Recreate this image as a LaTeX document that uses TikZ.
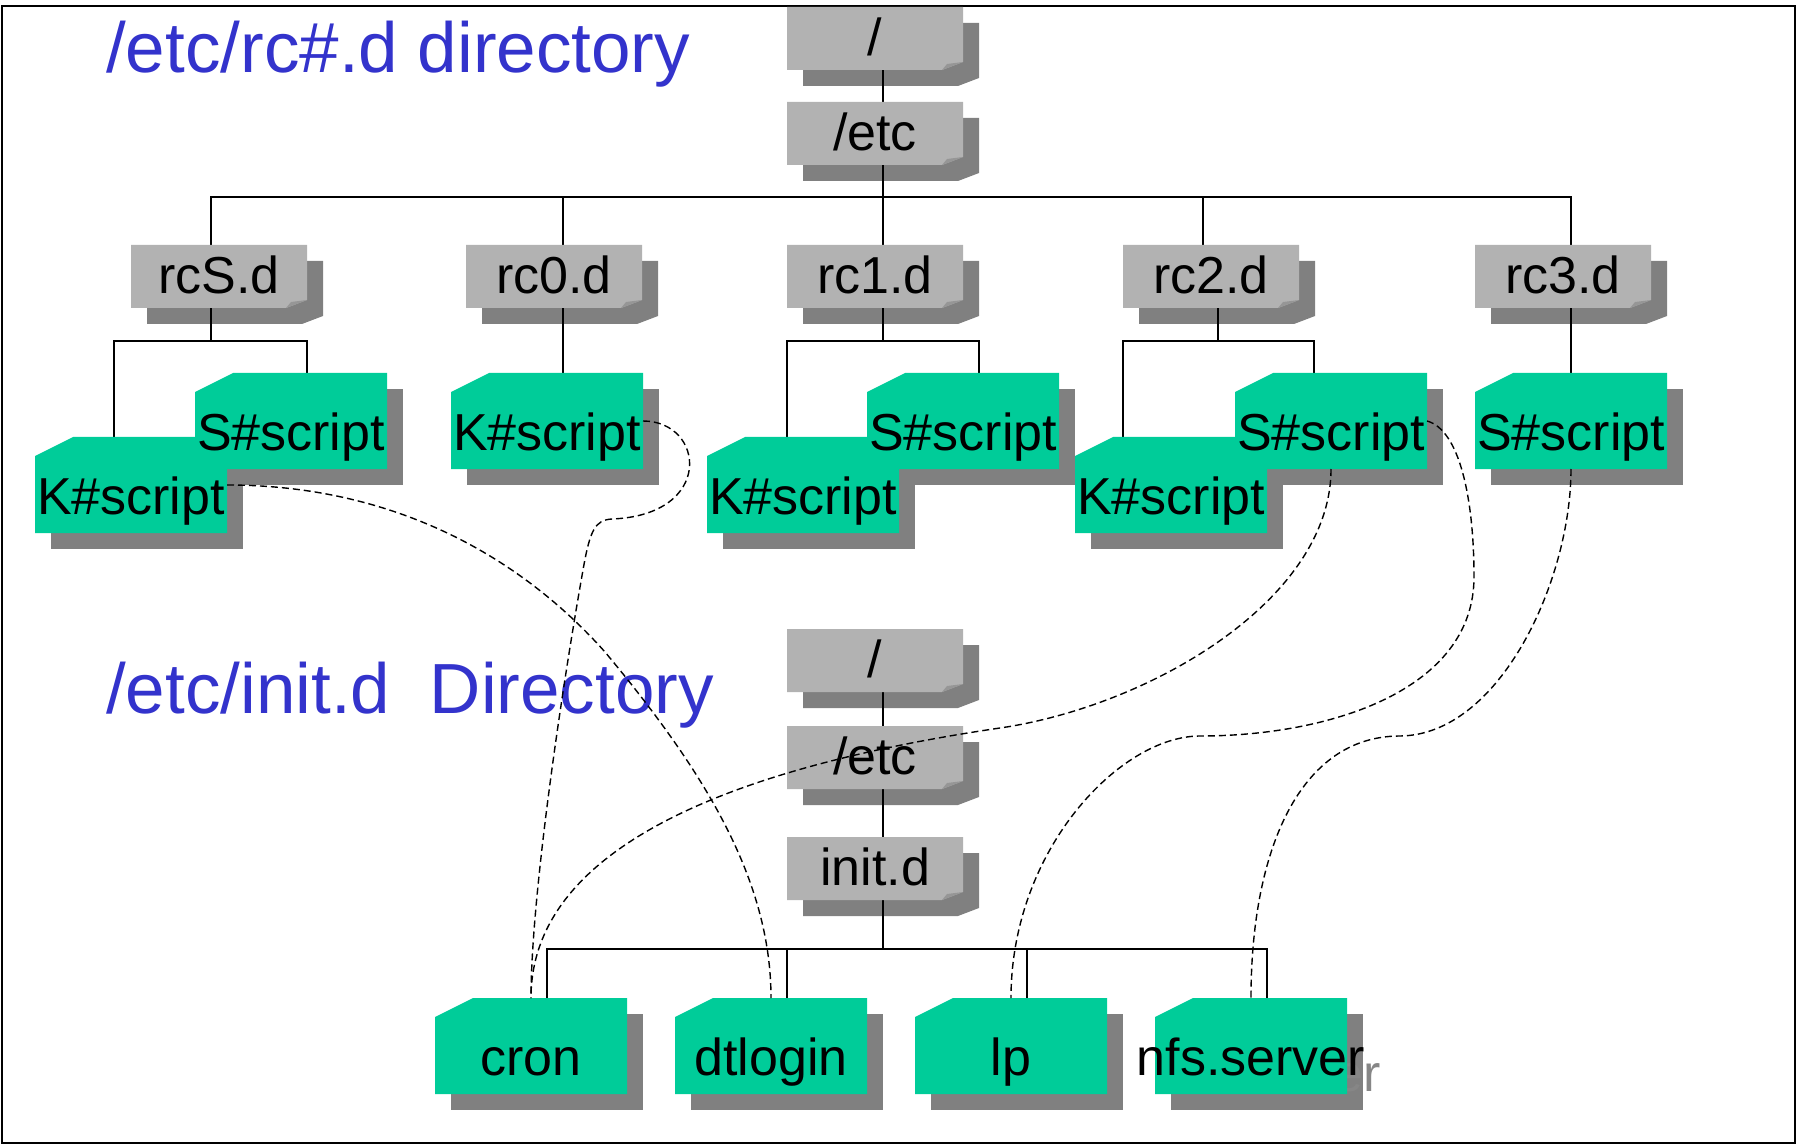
\documentclass[tikz,border=0pt]{standalone}
\usepackage{fontspec}
\setmainfont{Liberation Sans}
\definecolor{scriptgreen}{RGB}{0,204,153}
\definecolor{dirgray}{RGB}{178,178,178}
\definecolor{foldgray}{RGB}{150,150,150}
\definecolor{shadowgray}{RGB}{128,128,128}
\definecolor{ghostgray}{RGB}{134,134,134}
\definecolor{titleblue}{RGB}{51,51,204}
\pgfdeclarelayer{shade}
\pgfdeclarelayer{links}
\pgfsetlayers{shade,links,main}
\tikzset{
  dirbox/.style={rectangle,inner sep=0pt,outer sep=0pt,minimum width=176pt,minimum height=63pt,
    text height=34pt,text depth=0pt,font=\fontsize{52}{60}\selectfont,
    path picture={
      \fill[dirgray] (path picture bounding box.north west) -- (path picture bounding box.north east)
        -- ([yshift=8pt]path picture bounding box.south east) -- ([xshift=-21pt]path picture bounding box.south east)
        -- (path picture bounding box.south west) -- cycle;
      \fill[foldgray] ([yshift=8pt]path picture bounding box.south east) -- ([xshift=-21pt]path picture bounding box.south east)
        -- ([xshift=-16pt,yshift=6pt]path picture bounding box.south east) -- cycle;
    }},
  scriptbox/.style={rectangle,inner sep=0pt,outer sep=0pt,minimum width=192pt,minimum height=96pt,
    text height=58pt,text depth=0pt,font=\fontsize{52}{60}\selectfont,
    path picture={
      \fill[scriptgreen] ([yshift=-19pt]path picture bounding box.north west) -- ([xshift=38pt]path picture bounding box.north west)
        -- (path picture bounding box.north east) -- (path picture bounding box.south east)
        -- (path picture bounding box.south west) -- cycle;
    }},
  title/.style={anchor=base west,inner sep=0pt,text=titleblue,font=\fontsize{71}{80}\selectfont},
  link/.style={line width=1.5pt},
  jump/.style={line width=1.4pt,dash pattern=on 7pt off 4pt},
}

\begin{document}
\begin{tikzpicture}[x=1pt,y=-1pt]
  \useasboundingbox (0,0) rectangle (1797,1147);

  \node[title] (rctitle) at (106,73) {/etc/rc\#.d directory};
  \node[title] (inittitle) at (106,713) {/etc/init.d\ \ Directory};

  % upper tree
  \node[dirbox] (root1) at (875,38.5) {/};
  \node[dirbox] (etc1) at (875,133.5) {/etc};
  \node[dirbox] (rcS) at (219,276.5) {rcS.d};
  \node[dirbox] (rc0) at (554,276.5) {rc0.d};
  \node[dirbox] (rc1) at (875,276.5) {rc1.d};
  \node[dirbox] (rc2) at (1211,276.5) {rc2.d};
  \node[dirbox] (rc3) at (1563,276.5) {rc3.d};

  \node[scriptbox] (rcSK) at (131,485) {K\#script};
  \node[scriptbox] (rcSS) at (291,421) {S\#script};
  \node[scriptbox] (rc0K) at (547,421) {K\#script};
  \node[scriptbox] (rc1K) at (803,485) {K\#script};
  \node[scriptbox] (rc1S) at (963,421) {S\#script};
  \node[scriptbox] (rc2K) at (1171,485) {K\#script};
  \node[scriptbox] (rc2S) at (1331,421) {S\#script};
  \node[scriptbox] (rc3S) at (1571,421) {S\#script};

  % lower tree
  \node[dirbox] (root2) at (875,660.5) {/};
  \node[dirbox] (etc2) at (875,757.5) {/etc};
  \node[dirbox] (initd) at (875,868.5) {init.d};

  \node[scriptbox] (cron) at (531,1046) {cron};
  \node[scriptbox] (dtlogin) at (771,1046) {dtlogin};
  \node[scriptbox] (lp) at (1011,1046) {lp};
  \node[scriptbox] (nfs) at (1251,1046) {\makebox[0pt]{nfs.server}};

  \begin{pgfonlayer}{shade}
    \draw[line width=2pt] (2,6) rectangle (1795,1143);
    \foreach \n in {root1,etc1,rcS,rc0,rc1,rc2,rc3,root2,etc2,initd}
      \fill[shadowgray] ([shift={(16pt,-16pt)}]\n.north west) -- ([shift={(16pt,-16pt)}]\n.north east)
        -- ([shift={(16pt,-8pt)}]\n.south east) -- ([shift={(-5pt,-16pt)}]\n.south east)
        -- ([shift={(16pt,-16pt)}]\n.south west) -- cycle;
    \foreach \n in {rcSK,rcSS,rc0K,rc1K,rc1S,rc2K,rc2S,rc3S,cron,dtlogin,lp,nfs}
      \fill[shadowgray] ([shift={(16pt,-16pt)}]\n.north west) rectangle ([shift={(16pt,-16pt)}]\n.south east);
    \node[scriptbox,path picture={},text=ghostgray] (nfsghost) at ([shift={(16pt,-16pt)}]nfs.center) {\makebox[0pt]{nfs.server}};
  \end{pgfonlayer}

  \begin{pgfonlayer}{links}
    \coordinate (hub1) at (883,197);
    \draw[link] ([xshift=8pt]root1.south) -- (hub1);
    \draw[link] ([xshift=-8pt]rcS.north) |- (hub1);
    \draw[link] ([xshift=9pt]rc0.north) |- (hub1);
    \draw[link] ([xshift=8pt]rc1.north) |- (hub1);
    \draw[link] ([xshift=-8pt]rc2.north) |- (hub1);
    \draw[link] ([xshift=8pt]rc3.north) |- (hub1);

    \coordinate (rcShub) at (211,341);
    \draw[link] ([xshift=-8pt]rcS.south) -- (rcShub);
    \draw[link] ([xshift=-17pt]rcSK.north) |- (rcShub);
    \draw[link] ([xshift=16pt]rcSS.north) |- (rcShub);
    \draw[link] ([xshift=9pt]rc0.south) -- ([xshift=16pt]rc0K.north);
    \coordinate (rc1hub) at (883,341);
    \draw[link] ([xshift=8pt]rc1.south) -- (rc1hub);
    \draw[link] ([xshift=-16pt]rc1K.north) |- (rc1hub);
    \draw[link] ([xshift=16pt]rc1S.north) |- (rc1hub);
    \coordinate (rc2hub) at (1218,341);
    \draw[link] ([xshift=7pt]rc2.south) -- (rc2hub);
    \draw[link] ([xshift=-48pt]rc2K.north) |- (rc2hub);
    \draw[link] ([xshift=-17pt]rc2S.north) |- (rc2hub);
    \draw[link] ([xshift=8pt]rc3.south) -- (rc3S.north);

    \coordinate (hub2) at (883,949);
    \draw[link] ([xshift=8pt]root2.south) -- (hub2);
    \foreach \n in {cron,dtlogin,lp,nfs}
      \draw[link] ([xshift=16pt]\n.north) |- (hub2);
  \end{pgfonlayer}

  % scripts in rc#.d linked to /etc/init.d
  \draw[jump] (rcSK.east) .. controls +(173,0) and +(-80,-90) .. (605,652)
    .. controls +(100,120) and +(0,-118) .. (dtlogin.north);
  \draw[jump] (rc0K.east) .. controls +(62,0) and +(103,-4) .. (612,519)
    .. controls +(-17,1) and +(7,-40) .. (583,570)
    .. controls +(-23,130) and +(0,-98) .. (cron.north);
  \draw[jump] (rc2S.south) .. controls +(0,131) and +(150,-22) .. (1000,728)
    .. controls +(-300,44) and +(0,-138) .. (cron.north);
  \draw[jump] (rc2S.east) .. controls +(33,9) and +(0,-77) .. (1474,577)
    .. controls +(0,113) and +(130,0) .. (1200,736)
    .. controls +(-80,0) and +(0,-148) .. (lp.north);
  \draw[jump] (rc3S.south) .. controls +(0,111) and +(100,-1) .. (1400,736)
    .. controls +(-100,0) and +(0,-148) .. (nfs.north);
\end{tikzpicture}
\end{document}
